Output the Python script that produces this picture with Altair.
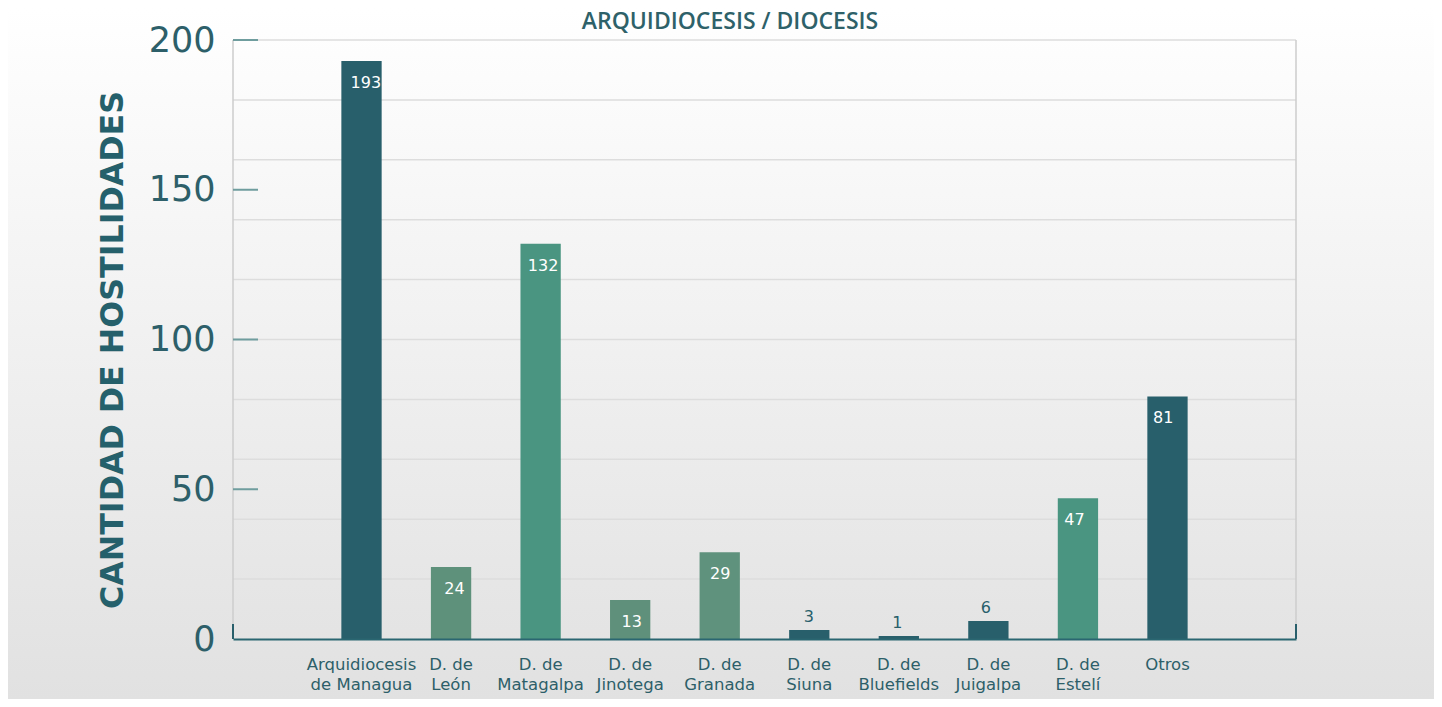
import altair as alt
import pandas as pd

title_text = "ARQUIDIOCESIS / DIOCESIS"
y_title = "CANTIDAD DE HOSTILIDADES"
categories = ["Arquidiocesis de Managua", "D. de León", "D. de Matagalpa", "D. de Jinotega",
              "D. de Granada", "D. de Siuna", "D. de Bluefields", "D. de Juigalpa",
              "D. de Estelí", "Otros"]
values = [193, 24, 132, 13, 29, 3, 1, 6, 47, 81]
colors = ["#285f6b", "#5e917b", "#4a9581", "#5f907b", "#5f927d",
          "#285f6b", "#285f6b", "#285f6b", "#4a9581", "#285f6b"]
tick_values = [0, 50, 100, 150, 200]
grid_values = [20, 40, 60, 80, 100, 120, 140, 160, 180, 200]

W, H = 1063, 599
PL, PT, PR, PB = 225, 32, 138, 60
DARK = "#285f6b"
LABEL = "#2d5f69"

df = pd.DataFrame({"cat": categories, "val": values, "col": colors})
grid_df = pd.DataFrame({"g": grid_values})
tick_df = pd.DataFrame({"t": [v for v in tick_values if v > 0]})

slots = ["pad_l"] + categories + ["pad_r"]
ydom = alt.Scale(domain=[0, 200], nice=False)
xscale = alt.Scale(domain=slots, paddingInner=0.55, paddingOuter=0.21)

bg = alt.Chart(alt.Data(values=[{"a": 1}])).mark_rect(
    fill=alt.Gradient(gradient="linear", x1=0, x2=0, y1=0, y2=1,
                      stops=[alt.GradientStop(offset=0, color="#ffffff"),
                             alt.GradientStop(offset=1, color="#e1e1e1")])
).encode(x=alt.value(-PL), x2=alt.value(W + PR), y=alt.value(-PT), y2=alt.value(H + PB))

title = alt.Chart(alt.Data(values=[{"t": title_text}])).mark_text(
    font="Open Sans", fontSize=23, fontWeight=600, color="#2e6169", align="center", baseline="alphabetic"
).encode(x=alt.value(497), y=alt.value(-11), text="t:N")

grid = alt.Chart(grid_df).mark_rule(color="#dddddd", strokeWidth=1.5).encode(
    y=alt.Y("g:Q", scale=ydom), x=alt.value(0), x2=alt.value(W))

sides = alt.Chart(alt.Data(values=[{"s": 0}, {"s": 1}])).mark_rule(color="#cccccc", strokeWidth=1.5).encode(
    x=alt.X("s:Q", scale=alt.Scale(domain=[0, 1], range=[0, W]), axis=None),
    y=alt.value(0), y2=alt.value(H))

ticks = alt.Chart(tick_df).mark_rule(color="#6f9d9e", strokeWidth=2).encode(
    y=alt.Y("t:Q", scale=ydom), x=alt.value(0), x2=alt.value(25))

ends = alt.Chart(alt.Data(values=[{"s": 0}, {"s": 1}])).mark_rule(color=DARK, strokeWidth=2).encode(
    x=alt.X("s:Q", scale=alt.Scale(domain=[0, 1], range=[0, W]), axis=None),
    y=alt.value(H - 15), y2=alt.value(H))

label_expr = ("indexof(datum.label, 'pad_') == 0 ? '' : "
              "(indexof(datum.label, 'D. de ') == 0 ? ['D. de', substring(datum.label, 6)] : "
              "(datum.label == 'Arquidiocesis de Managua' ? ['Arquidiocesis', 'de Managua'] : datum.label))")

bars = alt.Chart(df).mark_bar().encode(
    x=alt.X("cat:N", scale=xscale, sort=slots,
            axis=alt.Axis(title=None, labelAngle=0, ticks=False, domain=True, domainColor="#2a6671",
                          domainWidth=2, labelPadding=17, labelFont="DejaVu Sans", labelFontSize=16.5,
                          labelColor=LABEL, labelLineHeight=20, labelExpr=label_expr, zindex=1,
                          labelBaseline="top")),
    y=alt.Y("val:Q", scale=ydom,
            axis=alt.Axis(values=tick_values, grid=False, ticks=False, domain=False, labelPadding=18,
                          labelFont="DejaVu Sans", labelFontSize=35, labelColor=LABEL, zindex=1,
                          title=y_title, titleFont="DejaVu Sans", titleFontWeight="bold",
                          titleFontSize=31.7, titleColor="#25606b", titleX=-121, titleY=H / 2 + 10,
                          titleAngle=-90, titleBaseline="middle", titleAlign="center")),
    color=alt.Color("col:N", scale=None),
)

inside = alt.Chart(df).transform_filter("datum.val >= 10").mark_text(
    font="DejaVu Sans", fontSize=16, color="#ffffff", baseline="middle", dy=22).encode(
    x=alt.X("cat:N", scale=xscale, sort=slots), y=alt.Y("val:Q", scale=ydom), text="val:Q")

above = alt.Chart(df).transform_filter("datum.val < 10").mark_text(
    font="DejaVu Sans", fontSize=16, color="#285f6b", baseline="middle", dy=-13).encode(
    x=alt.X("cat:N", scale=xscale, sort=slots), y=alt.Y("val:Q", scale=ydom), text="val:Q")

chart = alt.layer(bg, title, grid, sides, ticks, bars, ends, inside, above).properties(
    width=W, height=H,
    autosize=alt.AutoSizeParams(type="none"),
    padding={"left": PL, "top": PT, "right": PR, "bottom": PB},
    background="#f0f0f0",
).configure_view(stroke=None)

chart.save("out.html", embed_options={"renderer": "svg", "actions": False})
